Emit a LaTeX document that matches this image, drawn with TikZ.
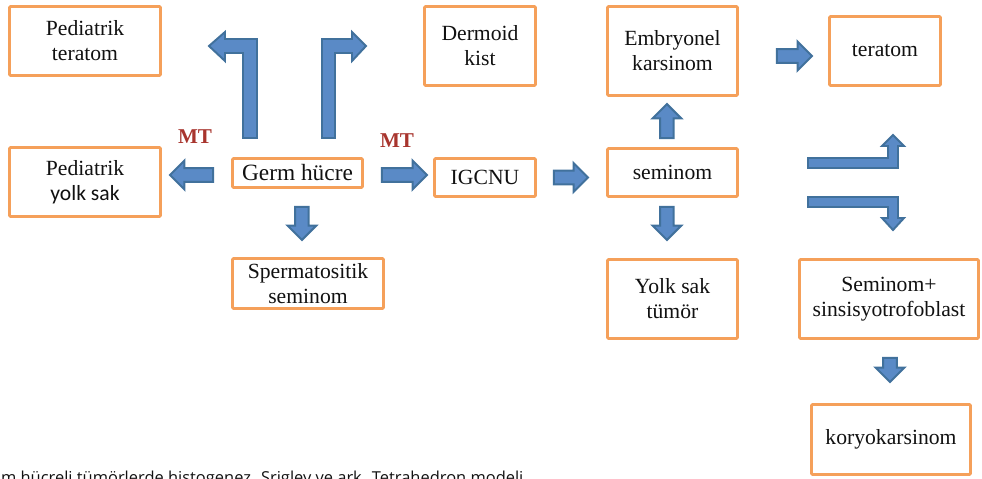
\documentclass[tikz,border=0pt]{standalone}
\usepackage{fontspec}
\setmainfont{Liberation Serif}
\newfontfamily\yolkfont{Carlito}
\newfontfamily\capfont{Open Sans}
\usepackage{xcolor}
\definecolor{gcorange}{HTML}{F5A05A}
\definecolor{gcfill}{HTML}{5A8AC6}
\definecolor{gcline}{HTML}{41719C}
\definecolor{gcred}{HTML}{A8352E}
\definecolor{gcink}{HTML}{111111}
\usetikzlibrary{calc}
\tikzset{
  gcbox/.style   ={rectangle, draw=gcorange, line width=2.1pt, fill=white,
                   rounded corners=0.8pt, inner sep=0pt, align=center,
                   font=\fontsize{15.4}{17.8}\selectfont, text=gcink},
  gcblock/.style ={fill=gcfill, draw=gcline, line width=1.4pt, line join=miter},
  gcmt/.style    ={font=\fontsize{15}{15}\selectfont\bfseries, text=gcred},
  gcarrow/.pic   ={
    \draw[gcblock] (0,-0.17) -- (#1-0.36,-0.17) -- (#1-0.36,-0.36) -- (#1,0)
                   -- (#1-0.36,0.36) -- (#1-0.36,0.17) -- (0,0.17) -- cycle;},
}
\begin{document}
\begin{tikzpicture}
  \useasboundingbox (0,0) rectangle (24.55,-11.975);
  \node[gcbox, minimum width=3.775cm, minimum height=1.725cm]
       (pter) at (2.125,-1.025) {Pediatrik\\teratom};
  \node[gcbox, minimum width=3.775cm, minimum height=1.725cm]
       (pyolk) at (2.125,-4.55) {Pediatrik\\{\yolkfont yolk sak}};
  \node[gcbox, minimum width=3.25cm, minimum height=0.725cm, font=\fontsize{16.6}{18}\selectfont]
       (germ) at (7.4375,-4.325) {Germ hücre};
  \node[gcbox, minimum width=3.775cm, minimum height=1.25cm]
       (sperm) at (7.7,-7.0875) {Spermatositik\\seminom};
  \node[gcbox, minimum width=2.775cm, minimum height=1.975cm]
       (dermoid) at (12.0,-1.15) {Dermoid\\kist};
  \node[gcbox, minimum width=2.525cm, minimum height=0.95cm]
       (igcnu) at (12.125,-4.4375) {IGCNU};
  \node[gcbox, minimum width=3.25cm, minimum height=2.225cm]
       (embryo) at (16.8125,-1.275) {Embryonel\\karsinom};
  \node[gcbox, minimum width=3.25cm, minimum height=1.2cm]
       (sem) at (16.8125,-4.3125) {seminom};
  \node[gcbox, minimum width=3.25cm, minimum height=1.975cm]
       (yolk) at (16.8125,-7.475) {Yolk sak\\tümör};
  \node[gcbox, minimum width=2.775cm, minimum height=1.725cm]
       (tera) at (22.125,-1.275) {teratom};
  \node[gcbox, minimum width=4.475cm, minimum height=1.975cm]
       (semsin) at (22.225,-7.475) {Seminom+\\sinsisyotrofoblast};
  \node[gcbox, minimum width=3.975cm, minimum height=1.75cm]
       (koryo) at (22.275,-10.9875) {koryokarsinom};
  \node[gcmt] (mtleft) at (4.875,-3.425) {MT};
  \node[gcmt] (mtright) at (9.925,-3.525) {MT};
  \pic[rotate=180] at ($(germ.west)+(-0.45,-0.05)$) {gcarrow=1.075};
  \pic at ($(germ.east)+(0.45,-0.05)$) {gcarrow=1.125};
  \pic[rotate=-90] at ($(germ.south)+(0.11,-0.45)$) {gcarrow=0.825};
  \pic at ($(igcnu.east)+(0.425,0)$) {gcarrow=0.85};
  \pic[rotate=90] at ($(sem.north)+(-0.14,0.225)$) {gcarrow=0.85};
  \pic[rotate=-90] at ($(sem.south)+(-0.14,-0.225)$) {gcarrow=0.825};
  \pic at ($(embryo.east)+(0.95,-0.125)$) {gcarrow=0.875};
  \pic[rotate=-90] at ($(semsin.south)+(0.025,-0.45)$) {gcarrow=0.6};
  \draw[gcblock] (6.075,-3.45) -- (6.425,-3.45) -- (6.425,-0.975) -- (5.625,-0.975)
       -- (5.625,-0.8) -- (5.225,-1.15) -- (5.625,-1.525) -- (5.625,-1.325)
       -- (6.075,-1.325) -- cycle;
  \draw[gcblock] (8.05,-3.45) -- (8.05,-0.975) -- (8.8,-0.975) -- (8.8,-0.8)
       -- (9.15,-1.15) -- (8.8,-1.525) -- (8.8,-1.325) -- (8.375,-1.325)
       -- (8.375,-3.45) -- cycle;
  \draw[gcblock] (20.2,-3.95) -- (22.2,-3.95) -- (22.2,-3.65) -- (22.05,-3.65)
       -- (22.325,-3.375) -- (22.6,-3.65) -- (22.45,-3.65) -- (22.45,-4.2)
       -- (20.2,-4.2) -- cycle;
  \draw[gcblock] (20.2,-4.925) -- (22.45,-4.925) -- (22.45,-5.45) -- (22.6,-5.45)
       -- (22.325,-5.75) -- (22.05,-5.45) -- (22.2,-5.45) -- (22.2,-5.175)
       -- (20.2,-5.175) -- cycle;
  \node[anchor=base west, inner sep=0pt, font=\capfont\fontsize{11.7}{13}\selectfont, text=gcink]
       (caption) at (0.02,-12.09) {m hücreli tümörlerde histogenez. Srigley ve ark. Tetrahedron modeli};
\end{tikzpicture}
\end{document}
